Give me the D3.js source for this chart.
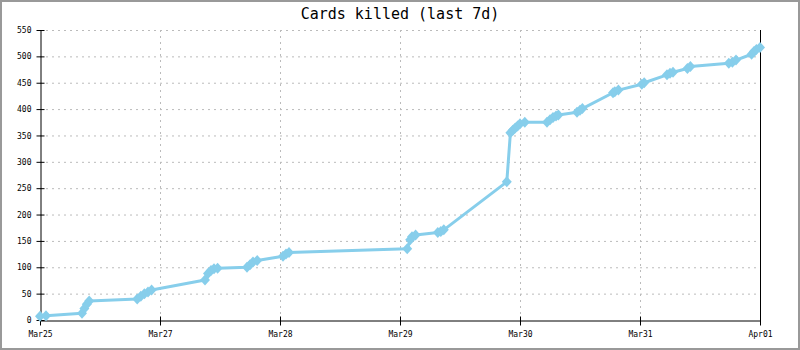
<!DOCTYPE html>
<html>
<head>
<meta charset="utf-8">
<script src="https://cdn.jsdelivr.net/npm/d3@7"></script>
<style>
  html, body { margin: 0; padding: 0; background: #fff; }
  svg { display: block; }
  text { font-family: "DejaVu Sans Mono", "Liberation Mono", monospace; }
</style>
</head>
<body>
<script>
// Cumulative cards killed over the last seven days.
// dayOffsets: days since the start of the window; killed: running total.
const dayOffsets = [
  0.0, 0.05, 0.35, 0.37, 0.39, 0.41,
  0.81, 0.84, 0.87, 0.90, 0.93,
  1.375, 1.40, 1.425, 1.45, 1.48,
  1.725, 1.75, 1.775, 1.81,
  2.025, 2.05, 2.075,
  3.06, 3.085, 3.10, 3.13,
  3.315, 3.34, 3.365,
  3.89, 3.92, 3.94, 3.96, 3.98, 4.00, 4.04,
  4.225, 4.25, 4.275, 4.30, 4.32,
  4.475, 4.50, 4.52,
  4.775, 4.79, 4.82,
  5.015, 5.035,
  5.225, 5.25, 5.275,
  5.395, 5.42,
  5.74, 5.77, 5.80,
  5.93, 5.95, 5.97, 6.0
];
const killed = [
  7, 8, 13, 22, 30, 36,
  40, 45, 50, 53, 57,
  76, 88, 94, 97, 98,
  100, 105, 110, 113,
  121, 125, 128,
  135, 152, 158, 161,
  166, 168, 171,
  262, 355, 360, 364, 368, 372, 375,
  375, 380, 384, 387, 389,
  394, 398, 401,
  431, 433, 436,
  447, 450,
  465, 468, 470,
  477, 481,
  487, 489, 493,
  504, 509, 513, 517
];
const xTickDays = [0, 1, 2, 3, 4, 5, 6];
const xTickLabels = ["Mar25", "Mar27", "Mar28", "Mar29", "Mar30", "Mar31", "Apr01"];
const yTickValues = [0, 50, 100, 150, 200, 250, 300, 350, 400, 450, 500, 550];
const chartTitle = "Cards killed (last 7d)";

const W = 800, H = 350;
const margin = { left: 40, right: 40, top: 30, bottom: 30 };

const svg = d3.select("body").append("svg")
  .attr("width", W).attr("height", H);

// outer frame
svg.append("rect")
  .attr("x", 1).attr("y", 1).attr("width", W - 2).attr("height", H - 2)
  .attr("fill", "#fff").attr("stroke", "#999").attr("stroke-width", 2);

const x = d3.scaleLinear().domain([0, 6]).range([margin.left, W - margin.right]);
const y = d3.scaleLinear().domain([0, 550]).range([H - margin.bottom, margin.top]);

// grid
const grid = svg.append("g").attr("stroke", "#bbb").attr("stroke-dasharray", "2,4");
grid.selectAll("line.h").data(yTickValues.filter(v => v > 0)).enter().append("line")
  .attr("x1", x(0)).attr("x2", x(6))
  .attr("y1", d => y(d) + 0.5).attr("y2", d => y(d) + 0.5);
grid.selectAll("line.v").data(xTickDays.filter(d => d > 0 && d < 6)).enter().append("line")
  .attr("y1", y(0)).attr("y2", y(550))
  .attr("x1", d => x(d) + 0.5).attr("x2", d => x(d) + 0.5);

// title
svg.append("text")
  .attr("x", W / 2).attr("y", 19)
  .attr("text-anchor", "middle")
  .attr("font-size", 15)
  .attr("fill", "#000")
  .text(chartTitle);

// axes
const yAxis = d3.axisLeft(y).tickValues(yTickValues).tickSize(0).tickPadding(9);
const gy = svg.append("g").attr("transform", `translate(${x(0) + 0.5},0)`).call(yAxis);
gy.select(".domain").attr("stroke", "#000");
gy.selectAll("text").attr("font-size", 8).attr("fill", "#000");
gy.selectAll(".tick").append("line")
  .attr("x1", -4).attr("x2", 4).attr("stroke", "#000");

const xAxis = d3.axisBottom(x).tickValues(xTickDays)
  .tickFormat((d, i) => xTickLabels[i]).tickSize(0).tickPadding(11);
const gx = svg.append("g").attr("transform", `translate(0,${y(0) + 0.5})`).call(xAxis);
gx.select(".domain").attr("stroke", "#000");
gx.selectAll("text").attr("font-size", 8).attr("fill", "#000");
gx.selectAll(".tick").append("line")
  .attr("y1", -4).attr("y2", 5).attr("stroke", "#000");

// right border line
svg.append("line")
  .attr("x1", x(6) + 0.5).attr("x2", x(6) + 0.5)
  .attr("y1", y(0)).attr("y2", y(550))
  .attr("stroke", "#000");

// series
const pts = dayOffsets.map((d, i) => [d, killed[i]]);
const color = "#87ceeb";
svg.append("path")
  .datum(pts)
  .attr("fill", "none")
  .attr("stroke", color)
  .attr("stroke-width", 3)
  .attr("stroke-linejoin", "round")
  .attr("d", d3.line().x(d => x(d[0])).y(d => y(d[1])));

const diamond = "M0,-5.5L5,0L0,5.5L-5,0Z";
svg.append("g").selectAll("path").data(pts).enter().append("path")
  .attr("d", diamond)
  .attr("transform", d => `translate(${x(d[0])},${y(d[1])})`)
  .attr("fill", color);
</script>
</body>
</html>
